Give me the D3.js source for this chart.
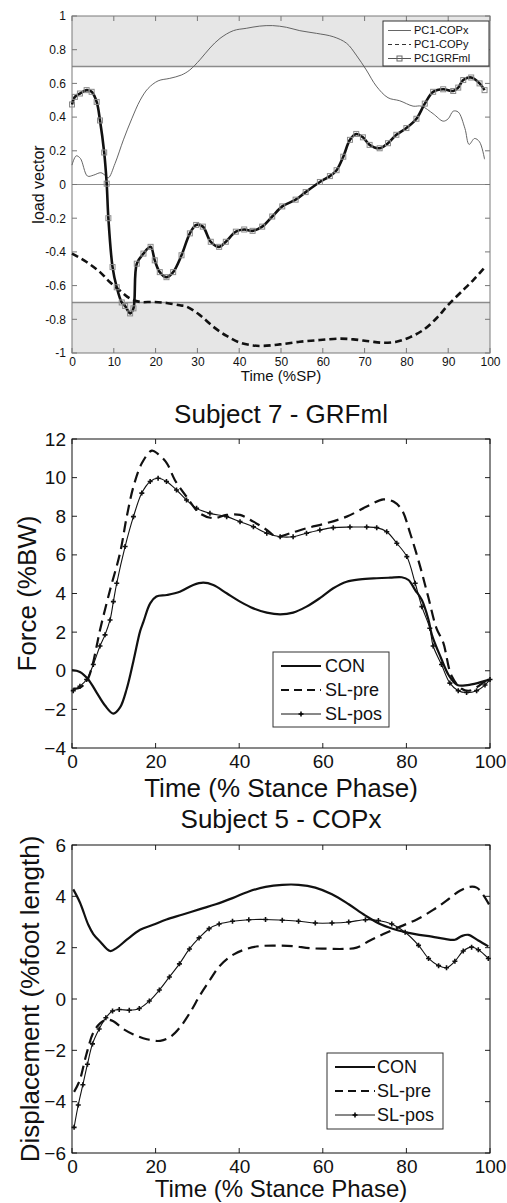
<!DOCTYPE html>
<html>
<head>
<meta charset="utf-8">
<script src="https://d3js.org/d3.v7.min.js"></script>
<style>
	body { margin: 0; background: #fff; }
	svg { display: block; font-family: "Liberation Sans", Arial, sans-serif; }
</style>
</head>
<body>
<div id="chart"></div>
<script>
// ---- panel 1 : load vectors ----
var pcTicksX = [0, 10, 20, 30, 40, 50, 60, 70, 80, 90, 100]
var pcTicksY = [1, 0.8, 0.6, 0.4, 0.2, 0, -0.2, -0.4, -0.6, -0.8, -1]
var pcNames = ["PC1-COPx", "PC1-COPy", "PC1GRFml"]

var copxT = [0, 1, 2, 3.7, 5.1, 6.9, 7.9, 8.7, 10.3, 12.3, 14.3, 16.3, 18.2, 20.6, 23.4, 26.2, 28.2, 30.6, 33, 35.4, 38.6, 41.7, 44.9, 48, 51.3, 54.5, 58.5, 62.5, 65.7, 68, 70.4, 72.8, 75.6, 78.4, 81.6, 83.6, 86.4, 88.8, 90, 91.2, 92.4, 94, 95, 96.3, 97.5, 98.7]
var copxV = [0.115, 0.17, 0.155, 0.05, 0.055, 0.07, 0.055, 0.04, 0.125, 0.265, 0.39, 0.5, 0.57, 0.615, 0.63, 0.65, 0.68, 0.74, 0.81, 0.867, 0.913, 0.927, 0.94, 0.943, 0.933, 0.913, 0.897, 0.877, 0.838, 0.768, 0.68, 0.584, 0.515, 0.497, 0.465, 0.465, 0.42, 0.376, 0.39, 0.435, 0.43, 0.333, 0.238, 0.273, 0.253, 0.15]

var copyT = [0, 3.5, 6.7, 9.1, 11.5, 13.9, 16.3, 19.4, 22.6, 25.8, 27.4, 30.6, 33.8, 37, 40.2, 43.3, 45.7, 49.7, 54.5, 59.3, 64, 67.3, 71.2, 74.4, 77.6, 80.8, 84, 87.2, 90, 93.6, 96, 98.8]
var copyV = [-0.41, -0.46, -0.52, -0.58, -0.63, -0.677, -0.697, -0.697, -0.703, -0.717, -0.725, -0.775, -0.844, -0.899, -0.939, -0.955, -0.958, -0.949, -0.933, -0.923, -0.915, -0.919, -0.931, -0.939, -0.933, -0.907, -0.864, -0.794, -0.715, -0.626, -0.567, -0.49]

var grfT = [0, 0.7, 1.9, 3.5, 4.7, 5.9, 6.7, 7.7, 8.3, 8.7, 9.7, 10.7, 11.9, 12.7, 13.9, 14.7, 15.5, 17.1, 18.8, 19.8, 21, 22.6, 24.2, 26.2, 28.2, 29.7, 31.3, 33.2, 35.2, 36.8, 39.2, 41.2, 43.2, 45.5, 47.9, 50.3, 53.5, 55.9, 59.3, 61.7, 63.3, 64.9, 66.5, 68, 69.6, 71.2, 73.6, 75.6, 77.6, 80, 82.4, 84.4, 86.4, 88.8, 91.2, 92.4, 93.6, 95.5, 97.5, 98.7]
var grfV = [0.475, 0.52, 0.54, 0.56, 0.55, 0.49, 0.38, 0.19, 0.005, -0.2, -0.49, -0.61, -0.7, -0.721, -0.765, -0.735, -0.47, -0.41, -0.37, -0.45, -0.52, -0.55, -0.52, -0.42, -0.29, -0.24, -0.25, -0.34, -0.37, -0.34, -0.28, -0.267, -0.275, -0.25, -0.19, -0.13, -0.09, -0.045, 0.015, 0.05, 0.085, 0.165, 0.265, 0.3, 0.28, 0.235, 0.215, 0.245, 0.295, 0.335, 0.39, 0.48, 0.55, 0.565, 0.555, 0.575, 0.62, 0.635, 0.6, 0.56]

// ---- panel 2 : Subject 7 - GRFml ----
var stanceTicksX = [0, 20, 40, 60, 80, 100]
var grfTicksY = [-4, -2, 0, 2, 4, 6, 8, 10, 12]
var groupNames = ["CON", "SL-pre", "SL-pos"]

var s7conT = [0, 1.9, 3.9, 5.9, 7.9, 9.9, 11.5, 13.1, 14.7, 16.3, 17.1, 18.7, 20.2, 22.7, 25.8, 29, 31.4, 33.8, 37, 40.2, 43.4, 46.6, 49.8, 52.9, 56.1, 59.3, 62.5, 65.7, 68.9, 72.9, 76.1, 78.9, 80.5, 82.1, 83.7, 85.3, 86.1, 88.2, 90.2, 92.2, 94.6, 97, 100]
var s7conV = [0.03, -0.06, -0.45, -1.13, -1.8, -2.22, -1.9, -0.93, 0.51, 2.05, 2.54, 3.49, 3.84, 3.92, 4.09, 4.44, 4.56, 4.44, 4.01, 3.58, 3.23, 3.01, 2.92, 3.01, 3.32, 3.76, 4.27, 4.61, 4.73, 4.79, 4.82, 4.84, 4.7, 4.18, 3.66, 2.63, 1.86, 0.7, -0.26, -0.74, -0.74, -0.64, -0.45]

var s7preT = [0.3, 1.9, 3.5, 4.7, 5.9, 6.7, 9.1, 11.5, 13.1, 14.7, 16.7, 19.1, 20.6, 22.7, 24.6, 27.4, 30.6, 33.8, 37, 40.2, 43.4, 46.6, 49, 52.2, 56.1, 60.9, 65.7, 70.5, 74.5, 76.9, 78.9, 80.9, 83.3, 85.2, 87.2, 88.8, 90.8, 93.2, 95.2, 97.6, 100]
var s7preV = [-0.93, -0.88, -0.55, 0.13, 1.28, 2.11, 4.18, 6.1, 7.98, 9.53, 10.74, 11.4, 11.22, 10.74, 9.88, 9.01, 8.15, 7.9, 8.07, 8.07, 7.72, 7.29, 6.94, 7.12, 7.38, 7.64, 7.98, 8.5, 8.87, 8.76, 8.33, 7.12, 5.39, 3.84, 2.2, 1.47, -0.26, -0.93, -1.03, -0.74, -0.35]

var s7posT = [0.3, 1.9, 3.5, 5.1, 6.7, 7.9, 9.1, 9.9, 10.7, 12.7, 14.7, 16.7, 18.7, 20.6, 22.6, 25, 27.4, 29.8, 33, 37, 40.2, 43.4, 46.6, 49.8, 52.9, 56.1, 59.3, 62.5, 66.5, 70.5, 72.9, 75.3, 77.7, 80.1, 82.1, 83.7, 85.6, 86.4, 88.4, 90.4, 92.4, 94.4, 96.8, 98.8, 100]
var s7posV = [-1.03, -0.8, -0.45, 0.32, 1.28, 1.86, 2.63, 3.58, 4.53, 6.43, 7.98, 9.2, 9.8, 9.97, 9.8, 9.36, 8.84, 8.41, 8.15, 7.98, 7.72, 7.46, 7.12, 6.94, 6.94, 7.12, 7.29, 7.41, 7.44, 7.44, 7.41, 7.2, 6.6, 5.91, 4.53, 3.32, 2.2, 1.28, 0.32, -0.64, -1.03, -1.13, -1.03, -0.74, -0.45]

// ---- panel 3 : Subject 5 - COPx ----
var copTicksY = [-6, -4, -2, 0, 2, 4, 6]

var s5conT = [0.3, 1.9, 3.9, 5.1, 6.7, 9.1, 10.7, 13.1, 16.3, 19.4, 22.6, 26.5, 30.6, 34.4, 38.4, 42.3, 46.3, 50.3, 54.2, 58.2, 62.2, 66.2, 70.2, 74.1, 78.1, 82.1, 86.1, 89.2, 91.6, 93.2, 94.8, 97.2, 99.6]
var s5conV = [4.27, 3.76, 2.89, 2.53, 2.24, 1.87, 1.99, 2.31, 2.7, 2.89, 3.1, 3.29, 3.5, 3.69, 3.93, 4.19, 4.37, 4.45, 4.45, 4.34, 4.08, 3.69, 3.25, 2.89, 2.67, 2.53, 2.43, 2.34, 2.31, 2.45, 2.5, 2.28, 2.05]

var s5preT = [0.5, 1.8, 3.4, 5.1, 6.7, 8.3, 9.9, 12.3, 14.7, 17.9, 21.1, 23.5, 25.9, 28.3, 30.6, 33, 35.4, 38.6, 41.7, 44.9, 48.9, 52.9, 56.9, 60.9, 64.9, 68.1, 71.3, 74.5, 78.5, 82.5, 86.4, 89.6, 92.8, 95.2, 96.8, 98.4, 100]
var s5preV = [-3.62, -3.19, -2.18, -1.31, -0.95, -0.8, -0.87, -1.17, -1.38, -1.57, -1.63, -1.48, -1.09, -0.51, 0.14, 0.74, 1.3, 1.73, 1.95, 2.06, 2.08, 2.06, 1.98, 1.96, 1.95, 2.0, 2.28, 2.53, 2.82, 3.1, 3.47, 3.83, 4.22, 4.37, 4.34, 4.05, 3.62]

var s5posT = [0.5, 1.5, 2.6, 3.7, 4.9, 6.5, 8.1, 9.7, 11.3, 13.7, 16.1, 18.5, 20.9, 23.3, 25.7, 28.1, 30.4, 32.8, 35.2, 38.4, 42.3, 46.3, 50.3, 54.2, 58.2, 62.2, 66.2, 70.2, 73.3, 76.5, 79.7, 82.9, 85.3, 87.7, 89.6, 91.6, 93.6, 95.6, 97.2, 99.6]
var s5posV = [-5.0, -4.13, -3.34, -2.54, -1.75, -1.17, -0.73, -0.47, -0.41, -0.44, -0.37, -0.08, 0.35, 0.86, 1.37, 1.95, 2.38, 2.74, 2.92, 3.03, 3.09, 3.1, 3.07, 3.03, 2.96, 2.96, 3.0, 3.09, 3.06, 2.92, 2.6, 2.09, 1.58, 1.3, 1.22, 1.47, 1.87, 2.02, 1.92, 1.58]

function zipSeries(ts, vs){
	return ts.map(function(t, i){ return {t: t, v: vs[i]} })
}

var svg = d3.select("#chart").append("svg")
	.attr("width", 507)
	.attr("height", 1203)

var plotLeft = 72, plotRight = 490
var crossPath = "M-2.5,0H2.5M0,-2.5V2.5"

// generic axes box with inward ticks on all four sides
function drawAxes(g, x, y, xt, yt, opt){
	var x0 = x.range()[0], x1 = x.range()[1]
	var y0 = y.range()[0], y1 = y.range()[1]
	var tl = opt.tickLen

	g.append("g").attr("transform", "translate(0," + y0 + ")")
		.call(d3.axisBottom(x).tickValues(xt).tickSize(0).tickPadding(opt.xPad).tickFormat(opt.xFmt))
		.call(function(a){ a.select(".domain").remove() })
		.selectAll("text").attr("font-size", opt.tickFont).attr("fill", "#111")
		.attr("font-family", "Liberation Sans, Arial, sans-serif")

	g.append("g").attr("transform", "translate(" + x0 + ",0)")
		.call(d3.axisLeft(y).tickValues(yt).tickSize(0).tickPadding(opt.yPad).tickFormat(opt.yFmt))
		.call(function(a){ a.select(".domain").remove() })
		.selectAll("text").attr("font-size", opt.tickFont).attr("fill", "#111")
		.attr("font-family", "Liberation Sans, Arial, sans-serif")

	var ticks = g.append("g").attr("stroke", opt.tickColor).attr("stroke-width", 1)
	xt.forEach(function(t){
		ticks.append("line").attr("x1", x(t)).attr("x2", x(t)).attr("y1", y0).attr("y2", y0 - tl)
		ticks.append("line").attr("x1", x(t)).attr("x2", x(t)).attr("y1", y1).attr("y2", y1 + tl)
	})
	yt.forEach(function(t){
		ticks.append("line").attr("x1", x0).attr("x2", x0 + tl).attr("y1", y(t)).attr("y2", y(t))
		ticks.append("line").attr("x1", x1).attr("x2", x1 - tl).attr("y1", y(t)).attr("y2", y(t))
	})

	g.append("rect")
		.attr("x", x0).attr("y", y1)
		.attr("width", x1 - x0).attr("height", y0 - y1)
		.attr("fill", "none").attr("stroke", opt.boxColor).attr("stroke-width", 1)
}

function addLegend(g, box, rows, fontSize){
	g.append("rect")
		.attr("x", box.x).attr("y", box.y).attr("width", box.w).attr("height", box.h)
		.attr("fill", "#fff").attr("stroke", "#333").attr("stroke-width", 1)
	rows.forEach(function(r, i){
		var yy = box.y + box.first + i * box.step
		g.append("line")
			.attr("x1", box.x + box.lx0).attr("x2", box.x + box.lx1)
			.attr("y1", yy).attr("y2", yy)
			.attr("stroke", r.color).attr("stroke-width", r.width)
			.attr("stroke-dasharray", r.dash || null)
		if(r.marker == "square"){
			g.append("rect")
				.attr("x", box.x + (box.lx0 + box.lx1) / 2 - 2.5).attr("y", yy - 2.5)
				.attr("width", 5).attr("height", 5)
				.attr("fill", "none").attr("stroke", "#666")
		}
		if(r.marker == "cross"){
			g.append("path")
				.attr("transform", "translate(" + (box.x + (box.lx0 + box.lx1) / 2) + "," + yy + ")")
				.attr("d", crossPath).attr("stroke", "#000").attr("stroke-width", 1.5)
		}
		g.append("text")
			.attr("x", box.x + box.tx).attr("y", yy)
			.attr("dy", "0.36em")
			.attr("font-size", fontSize)
			.attr("fill", "#111")
			.text(r.label)
	})
}

// ================= panel 1 =================
function drawPanel1(){
	var g = svg.append("g")
	var x = d3.scaleLinear().domain([0, 100]).range([plotLeft, plotRight])
	var y = d3.scaleLinear().domain([-1, 1]).range([353, 16])

	// shaded bands above 0.7 and below -0.7
	g.append("rect").attr("x", x(0)).attr("y", y(1)).attr("width", x(100) - x(0)).attr("height", y(0.7) - y(1)).attr("fill", "#e6e6e6")
	g.append("rect").attr("x", x(0)).attr("y", y(-0.7)).attr("width", x(100) - x(0)).attr("height", y(-1) - y(-0.7)).attr("fill", "#e6e6e6")
	;[0.7, 0, -0.7].forEach(function(v){
		g.append("line").attr("x1", x(0)).attr("x2", x(100)).attr("y1", y(v)).attr("y2", y(v))
			.attr("stroke", "#8c8c8c").attr("stroke-width", v == 0 ? 1 : 1.5)
	})

	drawAxes(g, x, y, pcTicksX, pcTicksY, {
		tickLen: 5, tickFont: 12, xPad: 4, yPad: 6, tickColor: "#777", boxColor: "#7a7a7a",
		xFmt: d3.format("d"), yFmt: function(d){ return String(Math.round(d * 10) / 10) }
	})

	var line = d3.line().x(function(d){ return x(d.t) }).y(function(d){ return y(d.v) }).curve(d3.curveCatmullRom)

	g.append("path").datum(zipSeries(copxT, copxV)).attr("d", line)
		.attr("fill", "none").attr("stroke", "#555").attr("stroke-width", 0.9)

	g.append("path").datum(zipSeries(copyT, copyV)).attr("d", line)
		.attr("fill", "none").attr("stroke", "#111").attr("stroke-width", 2.6).attr("stroke-dasharray", "7,4")

	var grf = zipSeries(grfT, grfV)
	g.append("path").datum(grf).attr("d", line)
		.attr("fill", "none").attr("stroke", "#111").attr("stroke-width", 2.6)
	g.selectAll(".sq").data(grf).enter().append("rect")
		.attr("class", "sq")
		.attr("x", function(d){ return x(d.t) - 2.5 }).attr("y", function(d){ return y(d.v) - 2.5 })
		.attr("width", 5).attr("height", 5)
		.attr("fill", "none").attr("stroke", "#8a8a8a").attr("stroke-width", 1)

	g.append("text").attr("x", x(50)).attr("y", 381).attr("text-anchor", "middle")
		.attr("font-size", 15).attr("fill", "#111").text("Time (%SP)")
	g.append("text").attr("transform", "translate(38," + y(0) + ") rotate(-90)")
		.attr("text-anchor", "middle").attr("dy", "0.35em")
		.attr("font-size", 16).attr("fill", "#111").text("load vector")

	addLegend(g, {x: 383, y: 21, w: 106, h: 45, first: 9.5, step: 14, lx0: 5, lx1: 28, tx: 31}, [
		{label: pcNames[0], color: "#666", width: 1},
		{label: pcNames[1], color: "#333", width: 1, dash: "4,3"},
		{label: pcNames[2], color: "#555", width: 1, marker: "square"}
	], 11)
}

// ================= panels 2 and 3 =================
function drawStancePanel(cfg){
	var g = svg.append("g")
	var x = d3.scaleLinear().domain([0, 100]).range([plotLeft, plotRight])
	var y = d3.scaleLinear().domain(cfg.yDomain).range([cfg.bottom, cfg.top])

	drawAxes(g, x, y, stanceTicksX, cfg.yTicks, {
		tickLen: 5, tickFont: 19, xPad: 7, yPad: 6, tickColor: "#222", boxColor: "#111",
		xFmt: d3.format("d"), yFmt: d3.format("d")
	})

	var line = d3.line().x(function(d){ return x(d.t) }).y(function(d){ return y(d.v) }).curve(d3.curveCatmullRom)

	g.append("path").datum(cfg.con).attr("d", line)
		.attr("fill", "none").attr("stroke", "#111").attr("stroke-width", 2.2)
	g.append("path").datum(cfg.pre).attr("d", line)
		.attr("fill", "none").attr("stroke", "#111").attr("stroke-width", 2.2).attr("stroke-dasharray", "11,6")
	g.append("path").datum(cfg.pos).attr("d", line)
		.attr("fill", "none").attr("stroke", "#111").attr("stroke-width", 1.1)
	g.selectAll(".cr").data(cfg.pos).enter().append("path")
		.attr("class", "cr")
		.attr("transform", function(d){ return "translate(" + x(d.t) + "," + y(d.v) + ")" })
		.attr("d", crossPath).attr("stroke", "#111").attr("stroke-width", 1.6)

	g.append("text").attr("x", (plotLeft + plotRight) / 2).attr("y", cfg.titleY)
		.attr("text-anchor", "middle").attr("font-size", 26).attr("fill", "#111").text(cfg.title)
	g.append("text").attr("x", (plotLeft + plotRight) / 2).attr("y", cfg.bottom + cfg.xlabOff)
		.attr("text-anchor", "middle").attr("font-size", cfg.xlabSize).attr("fill", "#111").text("Time (% Stance Phase)")
	g.append("text").attr("transform", "translate(" + cfg.ylabX + "," + ((cfg.top + cfg.bottom) / 2) + ") rotate(-90)")
		.attr("text-anchor", "middle").attr("dy", "0.35em")
		.attr("font-size", 26).attr("fill", "#111").text(cfg.ylabel)

	addLegend(g, cfg.legend, [
		{label: groupNames[0], color: "#111", width: 2},
		{label: groupNames[1], color: "#111", width: 2, dash: "8,5"},
		{label: groupNames[2], color: "#111", width: 1, marker: "cross"}
	], 18)
}

drawPanel1()

drawStancePanel({
	title: "Subject 7 - GRFml", titleY: 423,
	ylabel: "Force (%BW)", ylabX: 27, xlabOff: 49, xlabSize: 26,
	yDomain: [-4, 12], yTicks: grfTicksY, top: 439, bottom: 748,
	con: zipSeries(s7conT, s7conV), pre: zipSeries(s7preT, s7preV), pos: zipSeries(s7posT, s7posV),
	legend: {x: 273, y: 652, w: 116, h: 75, first: 14, step: 24, lx0: 8, lx1: 48, tx: 52}
})

drawStancePanel({
	title: "Subject 5 - COPx", titleY: 828,
	ylabel: "Displacement (%foot length)", ylabX: 30, xlabOff: 44, xlabSize: 24,
	yDomain: [-6, 6], yTicks: copTicksY, top: 845, bottom: 1153,
	con: zipSeries(s5conT, s5conV), pre: zipSeries(s5preT, s5preV), pos: zipSeries(s5posT, s5posV),
	legend: {x: 327, y: 1053, w: 116, h: 76, first: 14, step: 24, lx0: 8, lx1: 48, tx: 50}
})
</script>
</body>
</html>
